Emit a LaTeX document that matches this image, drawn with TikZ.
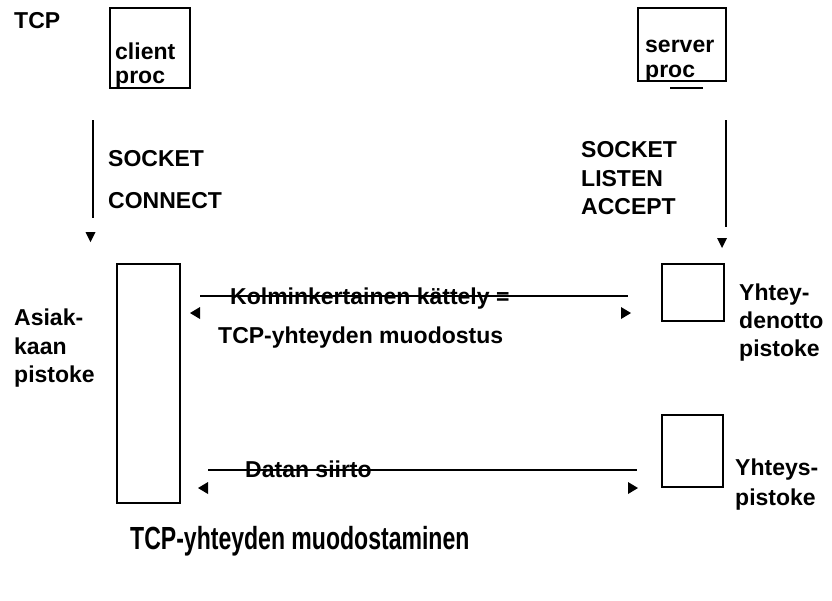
\documentclass[tikz,border=0pt]{standalone}
\usepackage{fontspec}
\setmainfont{Liberation Sans}
\newfontfamily\titlefont[FakeStretch=0.72]{Liberation Sans}
\usetikzlibrary{positioning}

\tikzset{
  box/.style={draw, line width=1.2pt, inner sep=0pt},
  lbl/.style={anchor=base west, inner sep=0pt, font=\bfseries\fontsize{23}{27}\selectfont},
  wire/.style={line width=1.2pt},
  tipfill/.style={fill=black}
}

\begin{document}
\begin{tikzpicture}[x=1pt, y=-1pt]
\useasboundingbox (0,0) rectangle (832,600);
% process boxes
\node[box, minimum width=80pt, minimum height=80pt] (cproc) at (150,48) {};
\node[box, minimum width=88pt, minimum height=73pt] (sproc) at (682,44.5) {};
\node[lbl] (tcp) at (14,28) {TCP};
\node[lbl] (cproc1) at (115,59) {client};
\node[lbl] (cproc2) at (115,83) {proc};
\node[lbl] (sproc1) at (645,52) {server};
\node[lbl] (sproc2) at (645,77) {proc};
\coordinate (ul-a) at (670,88);
\coordinate (ul-b) at (703,88);
\draw[wire] (ul-a) -- (ul-b);
% calls
\node[lbl] (csock) at (108,166) {SOCKET};
\node[lbl] (cconn) at (108,208) {CONNECT};
\node[lbl] (ssock) at (581,157) {SOCKET};
\node[lbl] (slist) at (581,186) {LISTEN};
\node[lbl] (sacc) at (581,214) {ACCEPT};
\coordinate (cl-a) at (93,120);
\coordinate (cl-b) at (93,218);
\coordinate (sl-a) at (726,120);
\coordinate (sl-b) at (726,227);
\draw[wire] (cl-a) -- (cl-b);
\draw[wire] (sl-a) -- (sl-b);
\fill[tipfill] (85.5,232) -- (95.5,232) -- (90.5,242) -- cycle;
\fill[tipfill] (717,238) -- (727,238) -- (722,248) -- cycle;
% sockets
\node[box, minimum width=63pt, minimum height=239pt] (csock-box) at (148.5,383.5) {};
\node[box, minimum width=62pt, minimum height=57pt] (lsock-box) at (693,292.5) {};
\node[box, minimum width=61pt, minimum height=72pt] (dsock-box) at (692.5,451) {};
\node[lbl] (asiak1) at (14,325) {Asiak-};
\node[lbl] (asiak2) at (14,354) {kaan};
\node[lbl] (asiak3) at (14,382) {pistoke};
\node[lbl] (lsock1) at (739,300) {Yhtey-};
\node[lbl] (lsock2) at (739,328) {denotto};
\node[lbl] (lsock3) at (739,356) {pistoke};
\node[lbl] (dsock1) at (735,475) {Yhteys-};
\node[lbl] (dsock2) at (735,505) {pistoke};
% handshake
\node[lbl] (hs1) at (230,304) {Kolminkertainen kättely =};
\node[lbl] (hs2) at (218,343) {TCP-yhteyden muodostus};
\coordinate (hs-a) at (200,296);
\coordinate (hs-b) at (628,296);
\draw[wire] (hs-a) -- (hs-b);
\fill[tipfill] (190,313) -- (200,307) -- (200,319) -- cycle;
\fill[tipfill] (631,313) -- (621,307) -- (621,319) -- cycle;
% data transfer
\node[lbl] (data) at (245,477) {Datan siirto};
\coordinate (dt-a) at (208,470);
\coordinate (dt-b) at (637,470);
\draw[wire] (dt-a) -- (dt-b);
\fill[tipfill] (198,488) -- (208,482) -- (208,494) -- cycle;
\fill[tipfill] (638,488) -- (628,482) -- (628,494) -- cycle;
% title
\node[anchor=base west, inner sep=0pt, font=\titlefont\bfseries\fontsize{32}{36}\selectfont] (title) at (130,549) {TCP-yhteyden muodostaminen};
\end{tikzpicture}
\end{document}
